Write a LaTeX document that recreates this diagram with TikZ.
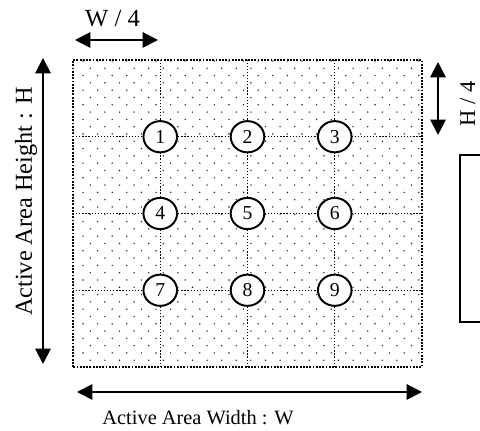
\documentclass[tikz,border=0pt]{standalone}
\usepackage{fontspec}
\setmainfont{Liberation Serif}
\usetikzlibrary{arrows.meta,positioning,shapes.geometric}

\begin{document}
\begin{tikzpicture}[x=0.025cm, y=0.025cm,
    dim/.style={{Triangle[length=11pt,width=11pt]}-{Triangle[length=11pt,width=11pt]}, line width=1.4pt},
    gridline/.style={dash pattern=on 0.9pt off 1.3pt, line width=0.9pt},
    sensor/.style={ellipse, draw, line width=1.4pt, fill=white, minimum width=0.84cm, minimum height=0.78cm, inner sep=0pt, font=\fontsize{14}{14}\selectfont}]
    \clip (0,0) rectangle (480,431);

    % Dotted fill of the active area
    \begin{scope}
        \clip (73,64) rectangle (422,371);
        \foreach \j in {0,...,41} {
            \pgfmathsetmacro{\yy}{370-7.3*\j}
            \pgfmathsetmacro{\xo}{83+mod(\j,2)*7.3}
            \foreach \i in {0,...,23}
                \fill[black!85] ({\xo+14.6*\i},\yy) circle (0.8);
        }
    \end{scope}

    % Quarter lines
    \foreach \k in {1,2,3} {
        \draw[gridline] ({73+87.25*\k},64) -- ({73+87.25*\k},371);
        \draw[gridline] (73,{64+76.75*\k}) -- (422,{64+76.75*\k});
    }
    \draw[dash pattern=on 1.3pt off 1pt, line width=1.3pt] (73,64) rectangle (422,371);

    % Measuring points
    \foreach \n/\cx/\cy in {1/1/3, 2/2/3, 3/3/3, 4/1/2, 5/2/2, 6/3/2, 7/1/1, 8/2/1, 9/3/1}
        \node[sensor] (p\n) at ({73+87.25*\cx},{64+76.75*\cy}) {\n};

    % Width
    \coordinate (wleft) at (77,39);
    \coordinate (wright) at (422,39);
    \draw[dim] (wleft) -- (wright);
    \node[anchor=base, font=\fontsize{14.5}{14.5}\selectfont] (wlabel) at (198,6) {Active Area Width : W};

    % Height
    \coordinate (htop) at (43,373);
    \coordinate (hbottom) at (43,67);
    \draw[dim] (htop) -- (hbottom);
    \node[rotate=90, anchor=base, font=\fontsize{17.3}{17.3}\selectfont] (hlabel) at (32,229.5) {Active Area Height : H};

    % W / 4
    \coordinate (qwleft) at (75,391);
    \coordinate (qwright) at (158,391);
    \draw[dim] (qwleft) -- (qwright);
    \node[anchor=base, font=\fontsize{17.5}{17.5}\selectfont] (qwlabel) at (112.5,404) {W / 4};

    % H / 4
    \coordinate (qhtop) at (438,369);
    \coordinate (qhbottom) at (438,296);
    \draw[dim] (qhtop) -- (qhbottom);
    \node[rotate=90, anchor=base, font=\fontsize{16}{16}\selectfont] (qhlabel) at (475,327) {H / 4};

    % Box at the right edge
    \draw[line width=1.4pt] (460,109) rectangle (520,276);
\end{tikzpicture}
\end{document}
